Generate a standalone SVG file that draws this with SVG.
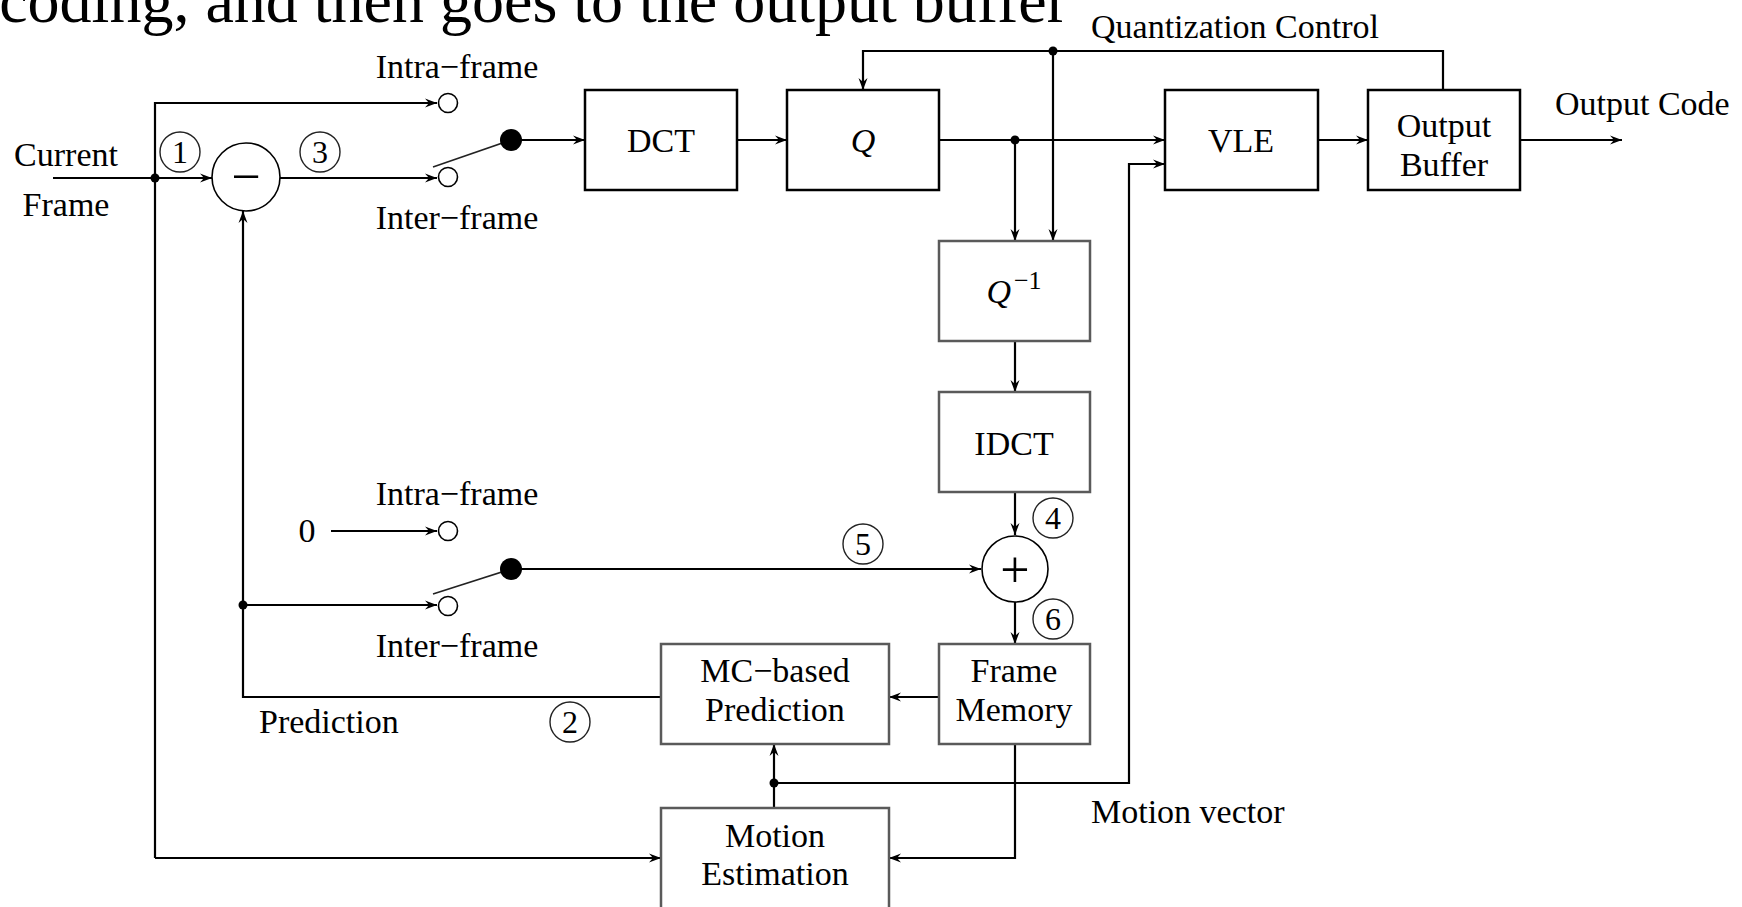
<svg xmlns="http://www.w3.org/2000/svg" width="1742" height="907" viewBox="0 0 1742 907">
<defs>
<style>
.ln{fill:none;stroke:#000;stroke-width:2.2}
.sw{fill:none;stroke:#222;stroke-width:1.6}
.bx{fill:#fff;stroke:#000;stroke-width:2.5}
.bg{fill:#fff;stroke:#5a5a5a;stroke-width:2.5}
.t{font-family:"Liberation Serif","Times New Roman",serif;font-size:34px;fill:#000;text-anchor:middle}
.s{text-anchor:start}
.it{font-style:italic}
.oc{fill:#fff;stroke:#000;stroke-width:1.6}
.fd{fill:#000}
.nc{fill:none;stroke:#222;stroke-width:1.4}
.nt{font-family:"Liberation Serif","Times New Roman",serif;font-size:32px;fill:#000;text-anchor:middle}
.op{fill:#fff;stroke:#000;stroke-width:1.6}
</style>
<marker id="ah" viewBox="-13 -6 14 12" refX="0" refY="0" markerWidth="14" markerHeight="12" orient="auto" markerUnits="userSpaceOnUse">
<path d="M0,0 L-12,-4.5 L-8,0 L-12,4.5 Z" fill="#000"/>
</marker>
</defs>
<rect width="1742" height="907" fill="#fff"/>
<text x="1068" y="22" font-family="Liberation Serif, Times New Roman, serif" font-size="64" text-anchor="end" fill="#000">coding, and then goes to the output buffer</text>

<g id="connectors">
<path class="ln" d="M53,178 H212" marker-end="url(#ah)"/>
<path class="ln" d="M155,858 V103 H437" marker-end="url(#ah)"/>
<path class="ln" d="M155,858 H661" marker-end="url(#ah)"/>
<path class="ln" d="M280,178 H437" marker-end="url(#ah)"/>
<path class="sw" d="M433,167 L511,140"/>
<path class="ln" d="M511,140 H585" marker-end="url(#ah)"/>
<path class="ln" d="M737,140 H787" marker-end="url(#ah)"/>
<path class="ln" d="M939,140 H1165" marker-end="url(#ah)"/>
<path class="ln" d="M1015,140 V241" marker-end="url(#ah)"/>
<path class="ln" d="M1443,90 V51 H863 V90" marker-end="url(#ah)"/>
<path class="ln" d="M1053,51 V241" marker-end="url(#ah)"/>
<path class="ln" d="M1318,140 H1368" marker-end="url(#ah)"/>
<path class="ln" d="M1520,140 H1622" marker-end="url(#ah)"/>
<path class="ln" d="M774,783 H1129 V164 H1165" marker-end="url(#ah)"/>
<path class="ln" d="M1015,341 V392" marker-end="url(#ah)"/>
<path class="ln" d="M1015,492 V535" marker-end="url(#ah)"/>
<path class="ln" d="M1015,602 V644" marker-end="url(#ah)"/>
<path class="ln" d="M939,697 H889" marker-end="url(#ah)"/>
<path class="ln" d="M661,697 H243 V211" marker-end="url(#ah)"/>
<path class="ln" d="M243,605 H437" marker-end="url(#ah)"/>
<path class="ln" d="M331,531 H437" marker-end="url(#ah)"/>
<path class="sw" d="M433,594 L511,569"/>
<path class="ln" d="M511,569 H981" marker-end="url(#ah)"/>
<path class="ln" d="M774,808 V744" marker-end="url(#ah)"/>
<path class="ln" d="M1015,744 V858 H889" marker-end="url(#ah)"/>
<circle class="fd" cx="155" cy="178" r="4.5"/>
<circle class="fd" cx="1053" cy="51" r="4.5"/>
<circle class="fd" cx="1015" cy="140" r="4.5"/>
<circle class="fd" cx="243" cy="605" r="4.5"/>
<circle class="fd" cx="774" cy="783" r="4.5"/>
</g>

<g id="switch-top">
<circle class="oc" cx="448" cy="103" r="9.5"/>
<circle class="oc" cx="448" cy="177" r="9.5"/>
<circle class="fd" cx="511" cy="140" r="11"/>
<text class="t" x="457" y="78">Intra−frame</text>
<text class="t" x="457" y="229">Inter−frame</text>
</g>
<g id="switch-bottom">
<circle class="oc" cx="448" cy="531" r="9.5"/>
<circle class="oc" cx="448" cy="606" r="9.5"/>
<circle class="fd" cx="511" cy="569" r="11"/>
<text class="t" x="457" y="505">Intra−frame</text>
<text class="t" x="457" y="657">Inter−frame</text>
<text class="t" x="307" y="542">0</text>
</g>

<g id="input-label">
<text class="t" x="66" y="166">Current</text>
<text class="t" x="66" y="216">Frame</text>
</g>

<g id="subtractor">
<circle class="op" cx="246" cy="177" r="34"/>
<text class="t" x="246" y="194" style="font-size:52px">−</text>
</g>
<g id="adder">
<circle class="op" cx="1015" cy="569" r="33"/>
<text class="t" x="1015" y="587" style="font-size:52px">+</text>
</g>

<g id="dct"><rect class="bx" x="585" y="90" width="152" height="100"/><text class="t" x="661" y="152">DCT</text></g>
<g id="q"><rect class="bx" x="787" y="90" width="152" height="100"/><text class="t it" x="863" y="152">Q</text></g>
<g id="vle"><rect class="bx" x="1165" y="90" width="153" height="100"/><text class="t" x="1241" y="152">VLE</text></g>
<g id="output-buffer"><rect class="bx" x="1368" y="90" width="152" height="100"/><text class="t" x="1444" y="137">Output</text><text class="t" x="1444" y="176">Buffer</text></g>
<g id="qinv"><rect class="bg" x="939" y="241" width="151" height="100"/><text class="t" x="1014" y="303"><tspan class="it">Q</tspan><tspan dx="3" dy="-14" style="font-size:26px">−1</tspan></text></g>
<g id="idct"><rect class="bg" x="939" y="392" width="151" height="100"/><text class="t" x="1014" y="455">IDCT</text></g>
<g id="frame-memory"><rect class="bg" x="939" y="644" width="151" height="100"/><text class="t" x="1014" y="682">Frame</text><text class="t" x="1014" y="721">Memory</text></g>
<g id="mc-prediction"><rect class="bg" x="661" y="644" width="228" height="100"/><text class="t" x="775" y="682">MC−based</text><text class="t" x="775" y="721">Prediction</text></g>
<g id="motion-estimation"><rect class="bg" x="661" y="808" width="228" height="104"/><text class="t" x="775" y="847">Motion</text><text class="t" x="775" y="885">Estimation</text></g>

<g id="labels">
<text class="t s" x="1091" y="38">Quantization Control</text>
<text class="t s" x="1555" y="115">Output Code</text>
<text class="t s" x="1091" y="823">Motion vector</text>
<text class="t s" x="259" y="733">Prediction</text>
</g>

<g id="markers-num">
<circle class="nc" cx="180" cy="152" r="20"/><text class="nt" x="180" y="163">1</text>
<circle class="nc" cx="320" cy="152" r="20"/><text class="nt" x="320" y="163">3</text>
<circle class="nc" cx="1053" cy="518" r="20"/><text class="nt" x="1053" y="529">4</text>
<circle class="nc" cx="863" cy="544" r="20"/><text class="nt" x="863" y="555">5</text>
<circle class="nc" cx="1053" cy="619" r="20"/><text class="nt" x="1053" y="630">6</text>
<circle class="nc" cx="570" cy="722" r="20"/><text class="nt" x="570" y="733">2</text>
</g>
</svg>
